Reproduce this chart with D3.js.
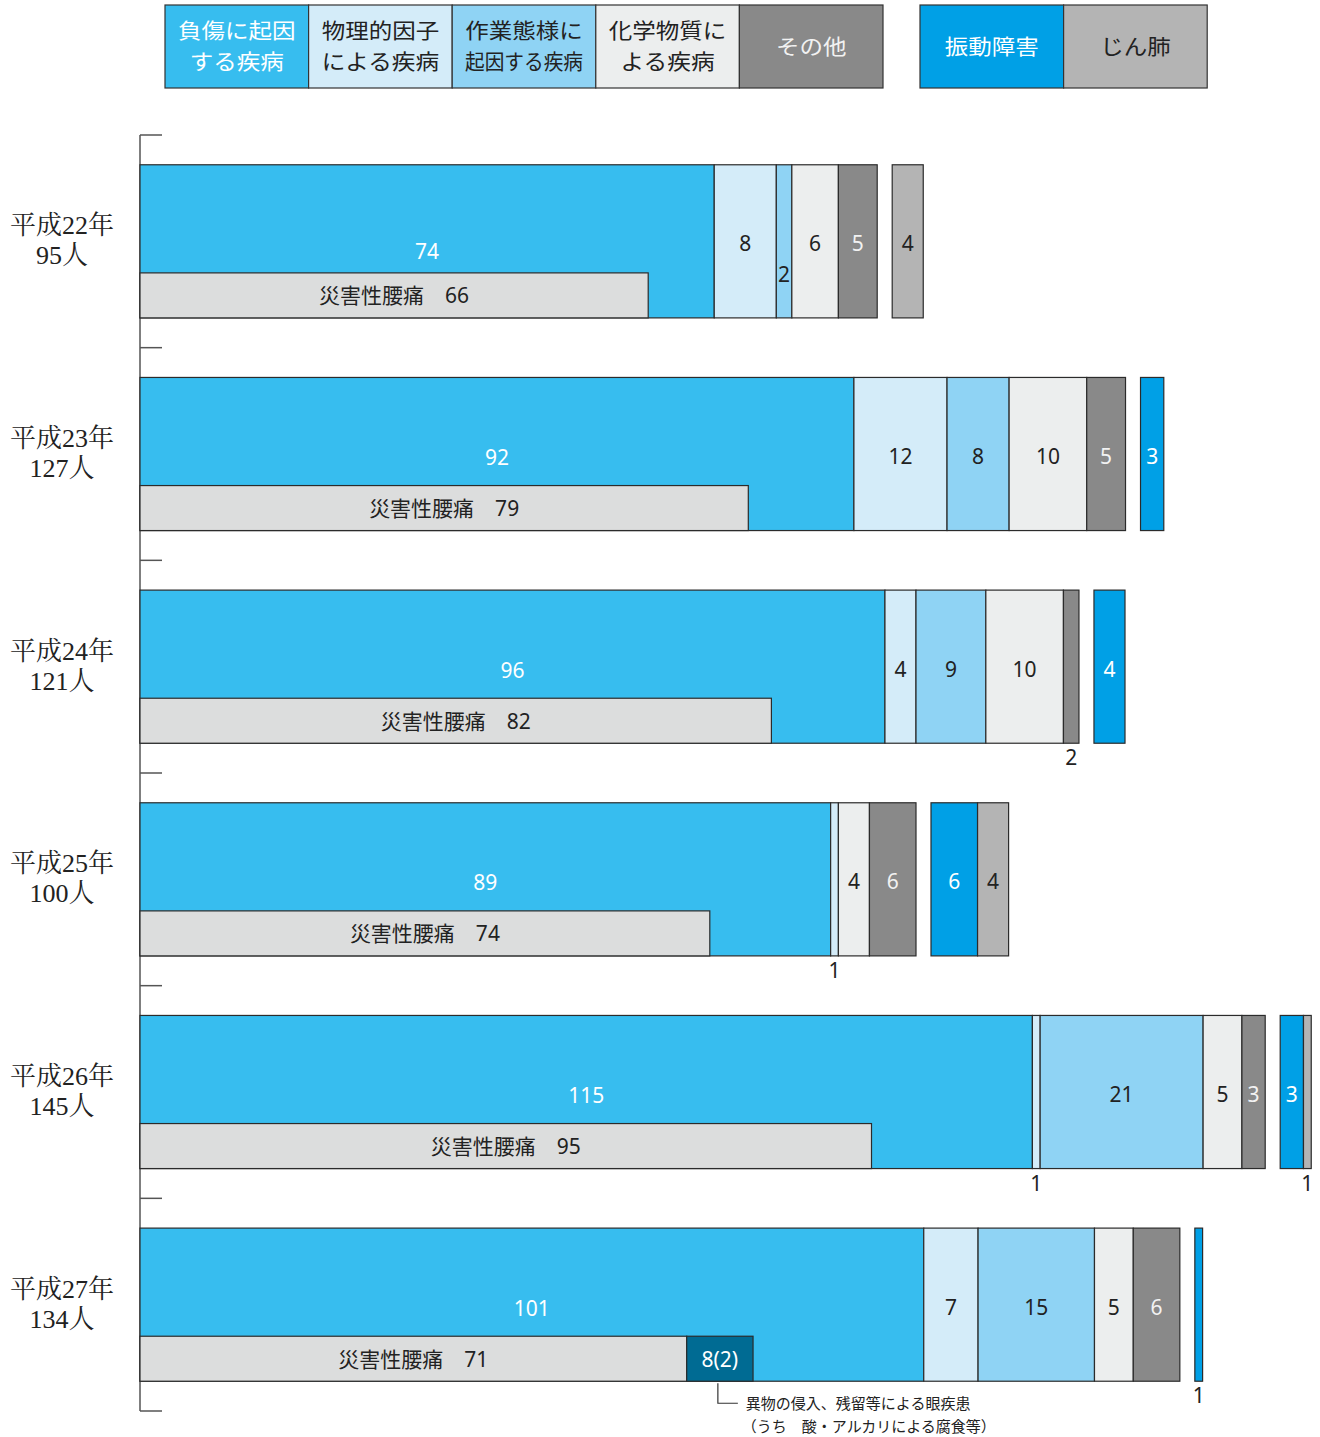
<!DOCTYPE html>
<meta charset="utf-8">
<style>
  body { margin: 0; background: #fff; }
  .seg { stroke: #2b2b2b; stroke-width: 1.2px; }
  .val { font: 21px "Noto Sans", "Noto Sans CJK JP", sans-serif; text-anchor: middle; }
  .year { font: 26px "Liberation Serif", "Noto Serif CJK JP", "Noto Sans CJK JP", serif; text-anchor: middle; fill: #222; }
  .leg text { font: 21px "Noto Sans CJK JP", sans-serif; text-anchor: middle; }
  .note { font: 15px "Noto Sans CJK JP", sans-serif; fill: #222; }
  .axis { stroke: #555; stroke-width: 1.5px; fill: none; }
</style>
<svg width="1320" height="1437"></svg>
<script src="https://cdn.jsdelivr.net/npm/d3@7"></script>
<script>
  const years = ["平成22年", "平成23年", "平成24年", "平成25年", "平成26年", "平成27年"];
  const totals = ["95人", "127人", "121人", "100人", "145人", "134人"];

  // main stacked series
  const injury   = [74, 92, 96, 89, 115, 101];
  const physical = [8, 12, 4, 1, 1, 7];
  const work     = [2, 8, 9, 0, 21, 15];
  const chemical = [6, 10, 10, 4, 5, 5];
  const other    = [5, 5, 2, 6, 3, 6];
  // separate block after the gap
  const vibration = [0, 3, 4, 6, 3, 1];
  const pneumo    = [4, 0, 0, 4, 1, 0];
  // inside 負傷
  const backPain = [66, 79, 82, 74, 95, 71];
  const eyeCases = [0, 0, 0, 0, 0, 8];
  const eyeAcid  = [0, 0, 0, 0, 0, 2];

  const cats = [
    {key: "injury",   name: ["負傷に起因", "する疾病"], data: injury,   color: "#37bdef", text: "#fff"},
    {key: "physical", name: ["物理的因子", "による疾病"], data: physical, color: "#d4ecf9", text: "#222"},
    {key: "work",     name: ["作業態様に", "起因する疾病"], data: work,   color: "#8fd3f4", text: "#222"},
    {key: "chemical", name: ["化学物質に", "よる疾病"], data: chemical, color: "#eceeee", text: "#222"},
    {key: "other",    name: ["その他"], data: other,    color: "#898989", text: "#f2f2f2"}
  ];
  const cats2 = [
    {key: "vibration", name: ["振動障害"], data: vibration, color: "#00a0e6", text: "#fff"},
    {key: "pneumo",    name: ["じん肺"], data: pneumo,    color: "#b4b4b4", text: "#222"}
  ];

  // labels the original puts under the bar or low inside it
  const labelBelow = {"平成24年/other": 1, "平成25年/physical": 1, "平成26年/physical": 1,
                      "平成26年/pneumo": 1, "平成27年/vibration": 1};
  const labelLow = {"平成22年/work": 1};

  const svg = d3.select("svg");

  const x = d3.scaleLinear().domain([0, 145]).range([140, 140 + 145 * 7.76]);
  // the inner 腰痛 band is drawn a touch narrower per unit in the original
  const xIn = d3.scaleLinear().domain([0, 100]).range([140, 140 + 100 * 7.7]);
  const y = d3.scaleBand().domain(years).range([135, 1411]).paddingInner(0.28).paddingOuter(0.14);
  const gap = 15;
  const bh = y.bandwidth();
  const waistH = 45;

  // axis line with ticks at band boundaries
  svg.append("line").attr("class", "axis")
    .attr("x1", 140).attr("x2", 140).attr("y1", 135).attr("y2", 1411);
  d3.range(years.length + 1).forEach(i => {
    const ty = 135 + i * y.step();
    svg.append("line").attr("class", "axis")
      .attr("x1", 140).attr("x2", 162).attr("y1", ty).attr("y2", ty);
  });

  years.forEach((yr, i) => {
    const g = svg.append("g");
    const y0 = y(yr), cy = y0 + bh / 2;

    // year / total labels
    g.append("text").attr("class", "year").attr("x", 62).attr("y", cy - 7).text(yr);
    g.append("text").attr("class", "year").attr("x", 62).attr("y", cy + 23).text(totals[i]);

    const segs = [];
    let acc = 0;
    cats.forEach(c => {
      const v = c.data[i];
      if (v > 0) segs.push({c, v, x0: x(acc), x1: x(acc + v)});
      acc += v;
    });
    const off = x(acc) + gap - x(0);
    let acc2 = 0;
    cats2.forEach(c => {
      const v = c.data[i];
      if (v > 0) segs.push({c, v, x0: x(acc2) + off, x1: x(acc2 + v) + off});
      acc2 += v;
    });

    g.selectAll("rect.seg").data(segs).enter().append("rect")
      .attr("class", "seg")
      .attr("x", d => d.x0).attr("y", y0)
      .attr("width", d => d.x1 - d.x0).attr("height", bh)
      .attr("fill", d => d.c.color);

    // 災害性腰痛 band inside 負傷
    g.append("rect").attr("class", "seg")
      .attr("x", xIn(0)).attr("y", y0 + bh - waistH)
      .attr("width", xIn(backPain[i]) - xIn(0)).attr("height", waistH)
      .attr("fill", "#dcdddd");
    g.append("text").attr("class", "val").attr("fill", "#222")
      .attr("x", (xIn(0) + xIn(backPain[i])) / 2).attr("y", y0 + bh - waistH / 2 + 8)
      .text("災害性腰痛　" + backPain[i]);

    if (eyeCases[i] > 0) {
      const ex0 = xIn(backPain[i]), ex1 = x(backPain[i] + eyeCases[i]);
      g.append("rect").attr("class", "seg")
        .attr("x", ex0).attr("y", y0 + bh - waistH)
        .attr("width", ex1 - ex0).attr("height", waistH)
        .attr("fill", "#006b93");
      g.append("text").attr("class", "val").attr("fill", "#fff")
        .attr("x", (ex0 + ex1) / 2).attr("y", y0 + bh - waistH / 2 + 8)
        .text(eyeCases[i] + "(" + eyeAcid[i] + ")");
      const lx = (ex0 + ex1) / 2 - 2;
      g.append("path").attr("fill", "none").attr("stroke", "#333").attr("stroke-width", 1.2)
        .attr("d", `M${lx},${y0 + bh + 2}V${y0 + bh + 22}H${lx + 20}`);
      g.append("text").attr("class", "note").attr("x", lx + 28).attr("y", y0 + bh + 28)
        .text("異物の侵入、残留等による眼疾患");
      g.append("text").attr("class", "note").attr("x", lx + 24).attr("y", y0 + bh + 51)
        .text("（うち　酸・アルカリによる腐食等）");
    }

    g.selectAll("text.lab").data(segs).enter().append("text")
      .attr("class", "val lab")
      .attr("x", d => (d.x0 + d.x1) / 2)
      .attr("y", d => {
        const k = yr + "/" + d.c.key;
        if (labelBelow[k]) return y0 + bh + 22;
        if (labelLow[k]) return y0 + bh - 36;
        if (d.c.key === "injury") return cy + (i === 0 ? 18 : 11);
        return cy + 10;
      })
      .attr("fill", d => labelBelow[yr + "/" + d.c.key] ? "#222" : d.c.text)
      .text(d => d.v);
  });

  // legend
  function legend(list, lx) {
    const w = 143.6, h = 83, ly = 5;
    const lg = svg.append("g").attr("class", "leg");
    list.forEach((c, j) => {
      const gx = lx + j * w;
      lg.append("rect").attr("x", gx).attr("y", ly).attr("width", w).attr("height", h)
        .attr("fill", c.color).attr("stroke", "#333").attr("stroke-width", 1.2);
      const n = c.name.length;
      c.name.forEach((t, k) => {
        lg.append("text").attr("x", gx + w / 2)
          .attr("y", ly + h / 2 + 7 + (k - (n - 1) / 2) * 31)
          .attr("fill", c.text)
          .attr("textLength", Math.min(t.length * 23.5, 118))
          .attr("lengthAdjust", "spacingAndGlyphs")
          .text(t);
      });
    });
  }
  legend(cats, 165);
  legend(cats2, 920);
</script>
